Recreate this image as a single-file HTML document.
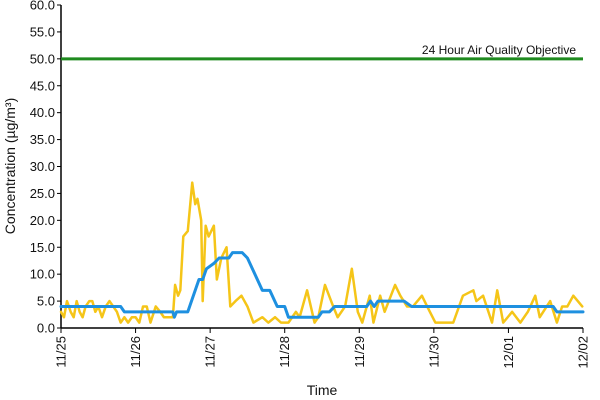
<!DOCTYPE html>
<html><head><meta charset="utf-8"><style>
html,body{margin:0;padding:0;background:#fff;}
svg{display:block;font-family:"Liberation Sans",Arial,sans-serif;}
</style></head><body>
<svg id="chart" width="600" height="400"></svg>
<script>
const xTickLabels=["11/25","11/26","11/27","11/28","11/29","11/30","12/01","12/02"];
const yTicks=[0,5,10,15,20,25,30,35,40,45,50,55,60];
const objectiveValue=50;
const pmDays=[0,.04,.08,.13,.17,.21,.25,.29,.33,.38,.42,.46,.5,.55,.6,.65,.7,.75,.8,.85,.9,.95,1.0,1.05,1.1,1.15,1.2,1.27,1.33,1.38,1.45,1.5,1.53,1.57,1.6,1.64,1.7,1.76,1.8,1.83,1.88,1.9,1.94,1.98,2.05,2.09,2.15,2.22,2.27,2.34,2.42,2.5,2.58,2.7,2.78,2.87,2.95,3.05,3.1,3.15,3.2,3.3,3.35,3.4,3.45,3.54,3.65,3.71,3.81,3.9,3.98,4.04,4.14,4.19,4.28,4.34,4.48,4.55,4.64,4.72,4.84,4.91,5.02,5.15,5.26,5.39,5.53,5.57,5.66,5.78,5.85,5.93,6.05,6.16,6.26,6.36,6.42,6.56,6.65,6.72,6.79,6.87,6.99];
const pmValues=[3,2,5,3,2,5,3,2,4,5,5,3,4,2,4,5,4,3,1,2,1,2,2,1,4,4,1,4,3,2,2,2,8,6,7,17,18,27,23,24,20,5,19,17,19,9,13,15,4,5,6,4,1,2,1,2,1,1,2,3,2,7,4,1,2,8,4,2,4,11,3,1,6,1,6,3,8,6,4,4,6,4,1,1,1,6,7,5,6,1,7,1,3,1,3,6,2,5,1,4,4,6,4];
const avgDays=[0,0.8,0.85,1.5,1.52,1.55,1.7,1.85,1.9,1.95,2.05,2.12,2.25,2.3,2.43,2.5,2.7,2.8,2.9,3.0,3.05,3.45,3.5,3.6,3.67,4.1,4.15,4.2,4.25,4.6,4.7,6.6,6.65,7.0];
const avgValues=[4,4,3,3,2,3,3,9,9,11,12,13,13,14,14,13,7,7,4,4,2,2,3,3,4,4,5,4,5,5,4,4,3,3];
const NS="http://www.w3.org/2000/svg";
const svg=document.getElementById('chart');
const X0=61,X1=583,Y0=328,Y1=5;
const xs=d=>X0+d*(X1-X0)/7;
const ys=v=>Y0-v*(Y0-Y1)/60;
function mk(t,a){const e=document.createElementNS(NS,t);for(const k in a)e.setAttribute(k,a[k]);svg.appendChild(e);return e;}
let e;
e=mk('line',{x1:X0,y1:Y1,x2:X0,y2:Y0,stroke:'#000','stroke-width':1.5});


e=mk('line',{x1:X0,y1:Y0,x2:X1,y2:Y0,stroke:'#000','stroke-width':1.5});


yTicks.forEach(v=>{
 e=mk('line',{x1:X0-4,y1:ys(v),x2:X0,y2:ys(v),stroke:'#000'});
 
 
 e=mk('text',{x:X0-6,y:ys(v)+4.5,'text-anchor':'end','font-size':13,fill:'#111'});
 e.textContent=v.toFixed(1);
 
 
});
xTickLabels.forEach((l,i)=>{
 const x=xs(i);
 e=mk('line',{x1:x,y1:Y0,x2:x,y2:Y0+5,stroke:'#000'});
 
 
 e=mk('text',{x:0,y:0,'text-anchor':'end','font-size':13,fill:'#111',transform:`translate(${x+4.5},${Y0+8}) rotate(-90)`});
 e.textContent=l;
 
 
});
e=mk('line',{x1:X0,y1:ys(objectiveValue),x2:X1,y2:ys(objectiveValue),stroke:'#1f8a1f','stroke-width':3});


e=mk('text',{x:576,y:ys(objectiveValue)-5,'text-anchor':'end','font-size':12,fill:'#111'});
e.textContent='24 Hour Air Quality Objective';


e=mk('polyline',{points:pmDays.map((d,i)=>xs(d)+','+ys(pmValues[i])).join(' '),fill:'none',stroke:'#f5c518','stroke-width':2.5,'stroke-linejoin':'round','stroke-linecap':'round'});


e=mk('polyline',{points:avgDays.map((d,i)=>xs(d)+','+ys(avgValues[i])).join(' '),fill:'none',stroke:'#1e90e0','stroke-width':3,'stroke-linejoin':'round','stroke-linecap':'round'});


e=mk('text',{x:322,y:395,'text-anchor':'middle','font-size':14,fill:'#111'});
e.textContent='Time';


e=mk('text',{x:0,y:0,'text-anchor':'middle','font-size':14,fill:'#111',transform:'translate(15,166) rotate(-90)'});
e.textContent='Concentration (µg/m³)';


</script>
</body></html>
